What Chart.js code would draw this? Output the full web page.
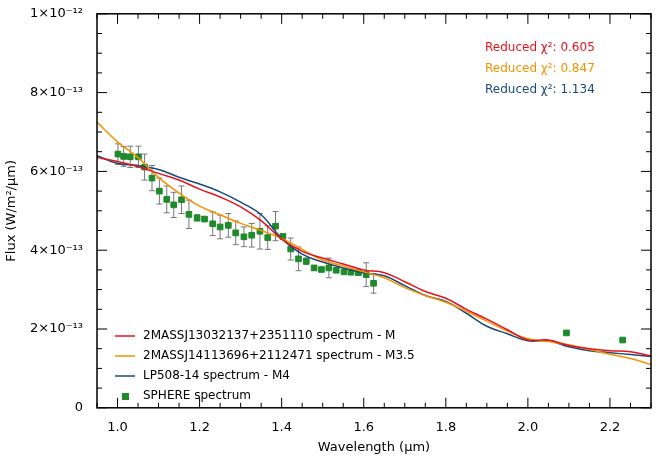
<!DOCTYPE html>
<html>
<head>
<meta charset="utf-8">
<script src="https://cdn.jsdelivr.net/npm/chart.js@4"></script>
<style>
  body { margin: 0; background: #fff; }
  #wrap { width: 671px; height: 459px; }
</style>
</head>
<body>
<div id="wrap"><canvas id="sed"></canvas></div>
<script>
// flux values in units of 1e-13 W/m^2/um
const obsWave = [1.001,1.015,1.031,1.051,1.066,1.084,1.102,1.120,1.137,1.156,1.174,1.194,1.212,1.232,1.250,1.270,1.288,1.308,1.327,1.347,1.366,1.385,1.403,1.422,1.441,1.460,1.479,1.497,1.515,1.533,1.552,1.569,1.587,1.606,1.624,2.094,2.231];
const obsFlux = [6.44,6.38,6.37,6.37,6.11,5.83,5.50,5.29,5.15,5.28,4.91,4.82,4.79,4.67,4.59,4.63,4.44,4.34,4.38,4.48,4.32,4.61,4.35,4.03,3.78,3.72,3.55,3.51,3.55,3.49,3.45,3.44,3.43,3.38,3.16,1.90,1.72];
const obsErr  = [0.26,0.25,0.27,0.27,0.33,0.32,0.33,0.34,0.32,0.35,0.36,0.08,0.06,0.3,0.3,0.3,0.3,0.25,0.3,0.45,0.3,0.37,0.06,0.28,0.3,0.08,0.05,0.05,0.25,0.05,0.04,0.05,0.05,0.3,0.25,0.03,0.03];

const modelWave = [0.95,1.0,1.05,1.1,1.15,1.2,1.25,1.3,1.35,1.4,1.45,1.5,1.55,1.6,1.65,1.7,1.75,1.8,1.85,1.9,1.95,2.0,2.05,2.1,2.15,2.2,2.25,2.3];
const fluxM   = [6.35,6.25,6.12,5.95,5.78,5.55,5.35,5.1,4.75,4.28,3.97,3.8,3.65,3.5,3.43,3.2,2.95,2.78,2.5,2.25,1.98,1.72,1.72,1.58,1.5,1.45,1.42,1.32];
const fluxM35 = [7.25,6.75,6.35,5.85,5.45,5.12,4.9,4.68,4.5,4.3,4.02,3.75,3.6,3.45,3.3,3.05,2.85,2.68,2.45,2.2,1.95,1.75,1.68,1.6,1.48,1.36,1.25,1.1];
const fluxM4  = [6.4,6.2,6.15,6.05,5.85,5.68,5.48,5.22,4.9,4.3,3.9,3.7,3.55,3.42,3.35,3.1,2.85,2.7,2.4,2.07,1.88,1.7,1.7,1.55,1.45,1.4,1.35,1.3];

const yTicks = [0,2,4,6,8,10];
const yLabels = ['0','2×10⁻¹³','4×10⁻¹³','6×10⁻¹³','8×10⁻¹³','1×10⁻¹²'];
const chiLabels = ['Reduced χ²: 0.605','Reduced χ²: 0.847','Reduced χ²: 1.134'];
const seriesNames = ['2MASSJ13032137+2351110 spectrum - M','2MASSJ14113696+2112471 spectrum - M3.5','LP508-14 spectrum - M4','SPHERE spectrum'];
const colors = ['#e4141b','#f39200','#1a4a7a','#1e8a2a'];

const toXY = (xs, ys) => xs.map((x, i) => ({x: x, y: ys[i]}));
const font = {family: 'DejaVu Sans, sans-serif', size: 13};

const frame = {
  id: 'frame',
  beforeDatasetsDraw(chart) {
    const {ctx, chartArea: a, scales: {x, y}} = chart;
    // error bars
    ctx.save();
    ctx.strokeStyle = '#777';
    ctx.lineWidth = 1;
    obsWave.forEach((w, i) => {
      const px = x.getPixelForValue(w);
      const t = y.getPixelForValue(obsFlux[i] + obsErr[i]);
      const b = y.getPixelForValue(obsFlux[i] - obsErr[i]);
      ctx.beginPath();
      ctx.moveTo(px, t); ctx.lineTo(px, b);
      ctx.moveTo(px - 3, t); ctx.lineTo(px + 3, t);
      ctx.moveTo(px - 3, b); ctx.lineTo(px + 3, b);
      ctx.stroke();
    });
    ctx.restore();
  },
  afterDraw(chart) {
    const {ctx, chartArea: a, scales: {x, y}} = chart;
    ctx.save();
    ctx.strokeStyle = '#000';
    ctx.lineWidth = 1.5;
    ctx.strokeRect(a.left, a.top, a.right - a.left, a.bottom - a.top);
    ctx.lineWidth = 1;
    ctx.beginPath();
    for (let v = 0; v <= 10; v += 0.5) {
      const py = y.getPixelForValue(v);
      const len = v % 2 === 0 ? 10 : 5;
      ctx.moveTo(a.left, py); ctx.lineTo(a.left + len, py);
      ctx.moveTo(a.right, py); ctx.lineTo(a.right - len, py);
    }
    for (let v = 0.95; v <= 2.3001; v += 0.05) {
      const px = x.getPixelForValue(v);
      const major = Math.abs(Math.round(v * 10) - v * 10) < 1e-6 && Math.round(v * 10) % 2 === 0;
      const len = major ? 10 : 5;
      ctx.moveTo(px, a.bottom); ctx.lineTo(px, a.bottom - len);
      ctx.moveTo(px, a.top); ctx.lineTo(px, a.top + len);
    }
    ctx.stroke();
    // chi2 labels
    ctx.font = '12px DejaVu Sans, sans-serif';
    ctx.textAlign = 'left';
    ctx.textBaseline = 'middle';
    chiLabels.forEach((t, i) => {
      ctx.fillStyle = colors[i];
      ctx.fillText(t, 485, 48 + i * 21);
    });
    // legend
    seriesNames.forEach((t, i) => {
      const ly = 336 + i * 20;
      if (i < 3) {
        ctx.strokeStyle = colors[i];
        ctx.lineWidth = 1.5;
        ctx.beginPath(); ctx.moveTo(115, ly); ctx.lineTo(135, ly); ctx.stroke();
      } else {
        ctx.fillStyle = colors[3];
        ctx.fillRect(122, ly - 3, 7, 7);
      }
      ctx.fillStyle = '#000';
      ctx.fillText(t, 143, ly);
    });
    ctx.restore();
  }
};

new Chart(document.getElementById('sed'), {
  type: 'scatter',
  data: {
    datasets: [
      {label: seriesNames[0], type: 'line', data: toXY(modelWave, fluxM), borderColor: colors[0], borderWidth: 1.5, pointRadius: 0, tension: 0.4},
      {label: seriesNames[1], type: 'line', data: toXY(modelWave, fluxM35), borderColor: colors[1], borderWidth: 1.5, pointRadius: 0, tension: 0.4},
      {label: seriesNames[2], type: 'line', data: toXY(modelWave, fluxM4), borderColor: colors[2], borderWidth: 1.5, pointRadius: 0, tension: 0.4},
      {label: seriesNames[3], data: toXY(obsWave, obsFlux), backgroundColor: colors[3], borderColor: colors[3], pointStyle: 'rect', pointRadius: 4}
    ]
  },
  options: {
    responsive: true,
    maintainAspectRatio: false,
    animation: false,
    layout: {padding: {top: 12, right: 20, bottom: 0, left: 0}},
    plugins: {legend: {display: false}, tooltip: {enabled: false}},
    scales: {
      x: {
        type: 'linear', min: 0.95, max: 2.3,
        grid: {display: false}, border: {display: false},
        afterBuildTicks: s => { s.ticks = [1.0,1.2,1.4,1.6,1.8,2.0,2.2].map(v => ({value: v})); },
        ticks: {color: '#000', font: font, padding: 4, callback: v => v.toFixed(1)},
        title: {display: true, text: 'Wavelength (μm)', color: '#000', font: font, padding: {top: 0}}
      },
      y: {
        min: 0, max: 10,
        grid: {display: false}, border: {display: false},
        afterBuildTicks: s => { s.ticks = yTicks.map(v => ({value: v})); },
        afterFit: s => { s.width = 97; },
        ticks: {color: '#000', font: font, padding: 6, callback: v => yLabels[yTicks.indexOf(v)]},
        title: {display: true, text: 'Flux (W/m²/μm)', color: '#000', font: font}
      }
    }
  },
  plugins: [frame]
});
</script>
</body>
</html>
